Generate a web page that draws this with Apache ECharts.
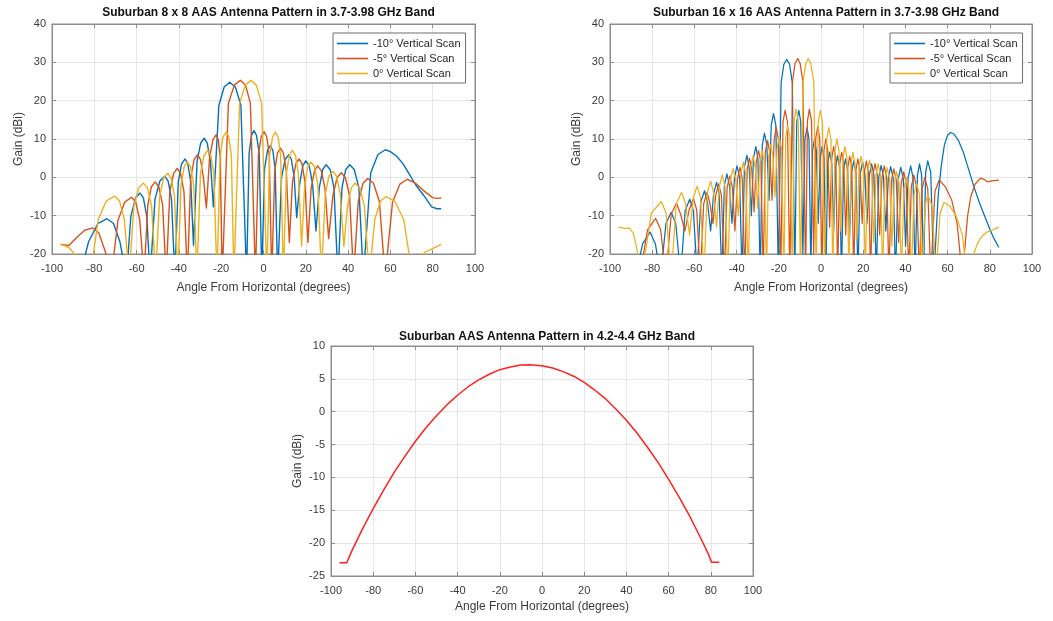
<!DOCTYPE html>
<html>
<head>
<meta charset="utf-8">
<script src="https://cdn.jsdelivr.net/npm/echarts@6/dist/echarts.min.js"></script>
<style>
html,body{margin:0;padding:0;background:#fff;}
#chart{width:1053px;height:621px;}
</style>
</head>
<body>
<div id="chart"></div>
<script>
// ---------- DATA ----------
const seriesNames = ['-10° Vertical Scan', '-5° Vertical Scan', '0° Vertical Scan'];
const titles = [
  'Suburban 8 x 8 AAS Antenna Pattern in 3.7-3.98 GHz Band',
  'Suburban 16 x 16 AAS Antenna Pattern in 3.7-3.98 GHz Band',
  'Suburban AAS Antenna Pattern in 4.2-4.4 GHz Band'
];
const xAxisTitle = 'Angle From Horizontal (degrees)';
const yAxisTitle = 'Gain (dBi)';

// 8 x 8 array, -10 deg scan  [angle, gain]
const a8_m10 = [[-96,-40],[-87,-26],
 [-82.7,-16.8],[-78.3,-12.05],[-74,-10.8],[-70.9,-12.05],[-67.9,-16.8],[-64.8,-26],
 [-62.7,-10.1],[-60.5,-5.35],[-58.4,-4.1],[-56.8,-5.35],[-55.2,-10.1],[-53.6,-26],
 [-51.3,-5.7],[-49,-0.95],[-46.7,0.3],[-45.1,-0.95],[-43.5,-5.7],[-41.9,-26],
 [-40.3,-1.2],[-38.7,3.55],[-37.1,4.8],[-35.8,3.55],[-34.4,-1.2],[-33.1,-17.7],
 [-31.4,4.2],[-29.7,8.95],[-28,10.2],[-26.6,8.95],[-25.1,4.2],[-23.7,-7.7],
 [-21.1,18.8],[-18.6,23.55],[-16,24.8],[-13.3,23.55],[-10.7,18.8],[-8,-26],
 [-6.8,6.2],[-5.7,10.95],[-4.5,12.2],[-3.3,10.95],[-2,6.2],[-0.8,-26],
 [0.5,2.3],[1.9,7.05],[3.2,8.3],[4.4,7.05],[5.5,2.3],[6.7,-26],
 [8.5,-0.1],[10.2,4.65],[12,5.9],[13.2,4.65],[14.5,-0.1],[15.7,-10.5],
 [17.1,-1.7],[18.6,3.05],[20,4.3],[21.6,3.05],[23.2,-1.7],[24.8,-14],
 [26.4,-2.7],[28,2.05],[29.6,3.3],[31.5,2.05],[33.3,-2.7],[35.2,-26],
 [37.1,-2.7],[38.9,2.05],[40.8,3.3],[42.9,2.05],[45.1,-2.7],[47.2,-26],
 [50.7,1.2],[54.1,5.95],[57.6,7.2],[60,6.7],[63,5.5],[66,3.5],[69,0.8],[72,-2],
 [75.6,-4.6],[79.5,-7.7],[82,-8.2],[84,-8.2]];
// 8 x 8 array, -5 deg scan
const a8_m5 = [[-96,-17.5],[-92,-17.8],
 [-88,-15.5],[-84.5,-13.8],[-80.8,-13.2],[-77.9,-14.45],[-74.9,-19.2],[-72,-26],
 [-68.8,-11.2],[-65.6,-6.45],[-62.4,-5.2],[-60.4,-6.45],[-58.5,-11.2],[-56.5,-26],
 [-54.7,-7.2],[-53,-2.45],[-51.2,-1.2],[-49.5,-2.45],[-47.7,-7.2],[-46,-26],
 [-44.3,-3.7],[-42.5,1.05],[-40.8,2.3],[-39.2,1.05],[-37.6,-3.7],[-36,-26],
 [-34.4,-0.1],[-32.8,4.65],[-31.2,5.9],[-29.8,4.65],[-28.4,-0.1],[-27,-8],
 [-25.5,5.1],[-23.9,9.85],[-22.4,11.1],[-21.4,9.85],[-20.5,5.1],[-19.5,-26],
 [-16.6,19.3],[-13.8,24.05],[-10.9,25.3],[-8.5,24.05],[-6.2,19.3],[-3.8,-26],
 [-2.4,5.9],[-1.1,10.65],[0.3,11.9],[1.5,10.65],[2.7,5.9],[3.9,-26],
 [5.3,1.6],[6.6,6.35],[8,7.6],[9.4,6.35],[10.8,1.6],[12.2,-17],
 [13.7,-1.2],[15.3,3.55],[16.8,4.8],[18.2,3.55],[19.6,-1.2],[21,-17],
 [22.5,-3],[24.1,1.75],[25.6,3],[27.3,1.75],[29.1,-3],[30.8,-16],
 [32.8,-4.8],[34.8,-0.05],[36.8,1.2],[38.7,-0.05],[40.7,-4.8],[42.6,-26],
 [44.8,-6.3],[47.1,-1.55],[49.3,-0.3],[52,-1.55],[54.8,-6.3],[57.5,-26],
 [61,-6.5],[64.5,-1.75],[68,-0.5],[72,-1.6],[76,-3.6],[80,-5.3],[82,-5.5],[84,-5.4]];
// 8 x 8 array, 0 deg scan
const a8_0 = [[-96,-17.4],[-92,-18.3],[-88.5,-20.5],[-82,-26],
 [-78.1,-10.9],[-74.3,-6.15],[-70.4,-4.9],[-68.1,-6.15],[-65.8,-10.9],[-63.5,-26],
 [-61.3,-7.5],[-59,-2.75],[-56.8,-1.5],[-54.9,-2.75],[-52.9,-7.5],[-51,-26],
 [-49.1,-4.9],[-47.2,-0.15],[-45.3,1.1],[-43.7,-0.15],[-42.1,-4.9],[-40.5,-26],
 [-39,-2],[-37.5,2.75],[-36,4],[-34.5,2.75],[-33,-2],[-31.5,-26],
 [-29.8,1],[-28.1,5.75],[-26.4,7],[-24.9,5.75],[-23.5,1],[-22,-26],
 [-20.5,5.8],[-19.1,10.55],[-17.6,11.8],[-16.4,10.55],[-15.2,5.8],[-14,-26],
 [-11.3,19.3],[-8.6,24.05],[-5.9,25.3],[-3.4,24.05],[-0.9,19.3],[1.6,-26],
 [2.9,5.8],[4.3,10.55],[5.6,11.8],[6.9,10.55],[8.1,5.8],[9.4,-26],
 [10.8,1],[12.2,5.75],[13.6,7],[15.1,5.75],[16.5,1],[18,-18],
 [19.5,-2],[20.9,2.75],[22.4,4],[24.1,2.75],[25.7,-2],[27.4,-26],
 [29.2,-4.4],[31,0.35],[32.8,1.6],[34.5,0.35],[36.3,-4.4],[38,-18],
 [39.7,-7.5],[41.5,-2.75],[43.2,-1.5],[45.5,-2.75],[47.7,-7.5],[50,-26],
 [52.6,-11],[55.3,-6.25],[57.9,-5],[62.1,-6.25],[66.3,-11],[70.5,-26],
 [73.5,-24],[75.4,-20],[77,-19.3],[80,-18.6],[84,-17.5]];

// 16 x 16 array, -10 deg scan
const a16_m10 = [[-96,-40],[-88,-26],
 [-84.5,-17.3],[-81,-14.3],[-78.5,-17.3],[-76,-26],
 [-73.5,-12.1],[-71,-9.1],[-68.8,-12.1],[-66.5,-26],
 [-64.4,-8.7],[-62.2,-5.7],[-60.5,-8.7],[-58.7,-25],
 [-57,-6.5],[-55.2,-3.5],[-53.8,-6.5],[-52.3,-14],
 [-50.9,-4.3],[-49.5,-1.3],[-48.3,-4.3],[-47,-26],
 [-45.8,-2.1],[-44.6,0.9],[-43.4,-2.1],[-42.2,-12],
 [-41,0],[-39.8,3],[-38.6,0],[-37.4,-26],
 [-36.3,2.7],[-35.1,5.7],[-34.1,2.7],[-33,-10],
 [-32,5],[-30.9,8],[-29.9,5],[-28.8,-26],
 [-27.8,8.5],[-26.8,11.5],[-25.7,8.5],[-24.6,-6],
 [-23.6,13.6],[-22.5,16.6],[-21.4,13.6],[-20.2,-26],
 [-18.9,24.7],[-17.6,29.5],[-16.2,30.7],[-14.9,29.5],[-13.6,24.7],[-12.4,-26],
 [-11.5,14.5],[-10.5,17.5],[-9.6,14.5],[-8.6,-20],
 [-7.6,10],[-6.6,13],[-5.7,10],[-4.8,-25],
 [-4,7],[-3.1,10],[-2.2,7],[-1.3,-12],
 [-0.4,5],[0.5,8],[1.4,5],[2.3,-26],
 [3.2,3.6],[4.1,6.6],[5.1,3.6],[6,-14],
 [6.9,2.6],[7.8,5.6],[8.8,2.6],[9.7,-26],
 [10.7,1.8],[11.6,4.8],[12.6,1.8],[13.5,-16],
 [14.5,1.3],[15.5,4.3],[16.5,1.3],[17.5,-26],
 [18.6,0.9],[19.7,3.9],[20.8,0.9],[21.8,-12],
 [22.9,0.5],[24,3.5],[25.1,0.5],[26.2,-26],
 [27.4,0.1],[28.5,3.1],[29.6,0.1],[30.7,-14],
 [31.9,-0.2],[33,2.8],[34.2,-0.2],[35.3,-26],
 [36.6,-0.4],[37.8,2.6],[39,-0.4],[40.1,-18],
 [41.3,0],[42.5,3],[43.6,0],[44.6,-26],
 [45.7,0.5],[46.7,3.5],[47.7,0.5],[48.6,-26],
 [49.6,1.3],[50.6,4.3],[52,1.3],[53.5,-26],
 [55.5,-5],[57,3],[58.5,8.5],[60,11],[61.4,11.7],[63,11.3],[65,9.8],[67.5,6.5],[70,2],
 [72.5,-2.5],[75,-6.5],[77.5,-10],[80,-13.5],[82,-16],[84.3,-18.3]];
// 16 x 16 array, -5 deg scan
const a16_m5 = [[-96,-40],[-86,-26],
 [-82.2,-13.7],[-78.4,-10.7],[-76,-13.7],[-73.5,-26],
 [-71,-9.7],[-68.5,-6.7],[-66.5,-9.7],[-64.5,-14],
 [-62.5,-8.5],[-60.5,-5.5],[-58.9,-8.5],[-57.2,-26],
 [-55.6,-6.9],[-54,-3.9],[-52.6,-6.9],[-51.2,-12],
 [-49.9,-4.7],[-48.5,-1.7],[-47.2,-4.7],[-45.8,-26],
 [-44.5,-2.6],[-43.2,0.4],[-42,-2.6],[-40.8,-14],
 [-39.6,-0.4],[-38.4,2.6],[-37.3,-0.4],[-36.1,-26],
 [-35,2],[-33.9,5],[-32.8,2],[-31.7,-9],
 [-30.7,4],[-29.6,7],[-28.5,4],[-27.4,-26],
 [-26.4,6.6],[-25.3,9.6],[-24.3,6.6],[-23.2,-6],
 [-22.2,10],[-21.2,13],[-20.2,10],[-19.1,-26],
 [-18,14.5],[-17,17.5],[-15.9,14.5],[-14.8,-26],
 [-13.5,25],[-12.3,29.75],[-11,31],[-9.9,29.75],[-8.6,25],[-7.3,-26],
 [-6.4,14.8],[-5.5,17.8],[-4.5,14.8],[-3.5,-20],
 [-2.5,10.2],[-1.5,13.2],[-0.6,10.2],[0.4,-26],
 [1.4,7],[2.3,10],[3.2,7],[4.1,-13],
 [5.1,5],[6,8],[7,5],[7.9,-26],
 [8.9,3.5],[9.8,6.5],[10.8,3.5],[11.7,-15],
 [12.7,2.5],[13.6,5.5],[14.6,2.5],[15.5,-26],
 [16.5,1.8],[17.5,4.8],[18.5,1.8],[19.5,-12],
 [20.5,1.2],[21.5,4.2],[22.5,1.2],[23.5,-26],
 [24.6,0.6],[25.6,3.6],[26.7,0.6],[27.8,-15],
 [28.9,0],[30,3],[31.1,0],[32.2,-26],
 [33.4,-0.8],[34.5,2.2],[35.7,-0.8],[36.8,-17],
 [38,-1.6],[39.2,1.4],[40.4,-1.6],[41.6,-26],
 [42.8,-2.4],[44,0.6],[45.3,-2.4],[46.6,-26],
 [47.9,-3],[49.2,0],[50.6,-3],[52,-26],
 [54,-3.7],[56,-0.7],[59,-2.5],[62,-6],[64.5,-12],[67,-26],
 [69.5,-10],[71,-5],[73,-1.8],[75.6,-0.2],[77.5,-0.6],[79,-1.2],[81,-0.9],[84.3,-0.7]];
// 16 x 16 array, 0 deg scan
const a16_0 = [[-96,-13],[-93,-13.3],[-91,-13.2],[-89,-14.5],[-87.5,-18],[-85,-26],
 [-80.4,-9.3],[-75.7,-6.3],[-73.4,-9.3],[-71,-26],
 [-68.6,-6.9],[-66.1,-3.9],[-64.2,-6.9],[-62.3,-15],
 [-60.5,-5.3],[-58.7,-2.3],[-57.1,-5.3],[-55.5,-26],
 [-53.9,-4],[-52.3,-1],[-50.9,-4],[-49.5,-13],
 [-48.2,-2.4],[-46.8,0.6],[-45.5,-2.4],[-44.2,-26],
 [-42.9,-0.7],[-41.6,2.3],[-40.4,-0.7],[-39.2,-10],
 [-38,1],[-36.8,4],[-35.7,1],[-34.5,-26],
 [-33.4,2.5],[-32.2,5.5],[-31.1,2.5],[-30,-8],
 [-29,4],[-27.9,7],[-26.9,4],[-25.8,-26],
 [-24.8,5.5],[-23.8,8.5],[-22.8,5.5],[-21.8,-5],
 [-20.8,7.5],[-19.8,10.5],[-18.7,7.5],[-17.6,-26],
 [-16.7,10.5],[-15.8,13.5],[-14.7,10.5],[-13.6,-26],
 [-12.7,14.8],[-11.8,17.8],[-10.8,14.8],[-9.7,-26],
 [-8.5,25],[-7.2,29.75],[-6,31],[-4.9,29.75],[-3.4,25],[-2.3,-26],
 [-1.3,14.5],[-0.3,17.5],[0.7,14.5],[1.7,-25],
 [2.7,10],[3.7,13],[4.7,10],[5.6,-26],
 [6.6,7],[7.5,10],[8.5,7],[9.4,-14],
 [10.4,5],[11.3,8],[12.3,5],[13.2,-26],
 [14.2,3.5],[15.1,6.5],[16.1,3.5],[17,-16],
 [18,2.5],[19,5.5],[20,2.5],[21,-26],
 [22,1.5],[23,4.5],[24,1.5],[25,-17],
 [26,0.5],[27.1,3.5],[28.2,0.5],[29.2,-26],
 [30.3,-0.5],[31.4,2.5],[32.5,-0.5],[33.6,-18],
 [34.7,-1.5],[35.8,1.5],[37,-1.5],[38.1,-26],
 [39.3,-3],[40.4,0],[41.6,-3],[42.8,-26],
 [44.1,-4.5],[45.3,-1.5],[46.7,-4.5],[48,-26],
 [49.3,-7.5],[50.6,-4.5],[52.6,-7.5],[54.5,-26],
 [56.4,-9.5],[58.3,-6.5],[61,-7.5],[64,-10],[67,-15],[69.3,-26],
 [71,-24],[72.4,-20],[74,-17.5],[75.5,-16],[77,-15],[78.7,-14.3],[81,-13.8],[84.3,-13]];

// 4.2-4.4 GHz single pattern
const aBand2 = [[-96,-23],[-92.6,-23],[-90,-21.1],[-85,-17.8],[-80,-14.75],[-75,-11.9],[-70,-9.2],
 [-65,-6.8],[-60,-4.5],[-55,-2.45],[-50,-0.6],[-45,1.07],[-40,2.5],[-35,3.8],[-30,4.85],
 [-25,5.7],[-20,6.4],[-15,6.8],[-10,7.1],[-6,7.15],[0,7.0],[5,6.65],[10,6.1],[15,5.4],
 [20,4.45],[25,3.3],[30,2.0],[35,0.4],[40,-1.3],[45,-3.25],[50,-5.4],[55,-7.7],[60,-10.3],
 [65,-13],[70,-15.9],[75,-19.1],[79,-21.75],[80.3,-22.9],[84,-22.9]];

// axis ranges / ticks
const xRange = {min: -100, max: 100, interval: 20};
const yRangeTop = {min: -20, max: 40, interval: 10};
const yRangeBottom = {min: -25, max: 10, interval: 5};

// ---------- STYLE ----------
const FONT = "'Liberation Sans', Arial, Helvetica, sans-serif";
const AX = '#8c8c8c';
const TXT = '#3a3a3a';
const GRIDC = '#e6e6e6';
const COLORS = ['#0072BD', '#D95319', '#EDB120'];

const grids = [
  {left: 52, top: 24, width: 423, height: 230},
  {left: 610, top: 24, width: 422, height: 230},
  {left: 331, top: 346, width: 422, height: 230}
];

const xAxes = [], yAxes = [];
grids.forEach((g, i) => {
  const yr = i < 2 ? yRangeTop : yRangeBottom;
  xAxes.push({
    type: 'value', gridIndex: i, position: 'bottom', min: xRange.min, max: xRange.max, interval: xRange.interval,
    name: xAxisTitle, nameLocation: 'middle', nameGap: i < 2 ? 28 : 25,
    nameTextStyle: {fontFamily: FONT, fontSize: 12, color: TXT},
    axisLine: {show: true, onZero: false, lineStyle: {color: AX, width: 1}},
    axisTick: {show: true, inside: true, length: 4, lineStyle: {color: AX}},
    axisLabel: {fontFamily: FONT, fontSize: 11, color: TXT, margin: 9},
    splitLine: {show: true, lineStyle: {color: GRIDC, width: 1}}
  });
  xAxes.push({
    type: 'value', gridIndex: i, position: 'top', min: xRange.min, max: xRange.max, interval: xRange.interval,
    axisLine: {show: true, onZero: false, lineStyle: {color: AX, width: 1}},
    axisTick: {show: true, inside: true, length: 4, lineStyle: {color: AX}},
    axisLabel: {show: false}, splitLine: {show: false}
  });
  yAxes.push({
    type: 'value', gridIndex: i, position: 'left', min: yr.min, max: yr.max, interval: yr.interval,
    name: yAxisTitle, nameLocation: 'middle', nameGap: 27, nameRotate: 90,
    nameTextStyle: {fontFamily: FONT, fontSize: 12, color: TXT},
    axisLine: {show: true, onZero: false, lineStyle: {color: AX, width: 1}},
    axisTick: {show: true, inside: true, length: 4, lineStyle: {color: AX}},
    axisLabel: {fontFamily: FONT, fontSize: 11, color: TXT, margin: 6},
    splitLine: {show: true, lineStyle: {color: GRIDC, width: 1}}
  });
  yAxes.push({
    type: 'value', gridIndex: i, position: 'right', min: yr.min, max: yr.max, interval: yr.interval,
    axisLine: {show: true, onZero: false, lineStyle: {color: AX, width: 1}},
    axisTick: {show: true, inside: true, length: 4, lineStyle: {color: AX}},
    axisLabel: {show: false}, splitLine: {show: false}
  });
});

function lineSeries(name, data, gi, color, width) {
  return {
    name: name, type: 'line', data: data, xAxisIndex: gi * 2, yAxisIndex: gi * 2,
    showSymbol: false, symbol: 'none', smooth: false, clip: true,
    lineStyle: {color: color, width: width || 1.3, join: 'round'}, itemStyle: {color: color},
    emphasis: {disabled: true}, animation: false, z: 3
  };
}

const series = [
  lineSeries(seriesNames[0], a8_m10, 0, COLORS[0], 1.4),
  lineSeries(seriesNames[1], a8_m5, 0, COLORS[1], 1.4),
  lineSeries(seriesNames[2], a8_0, 0, COLORS[2], 1.4),
  lineSeries(seriesNames[0], a16_m10, 1, COLORS[0], 1.25),
  lineSeries(seriesNames[1], a16_m5, 1, COLORS[1], 1.25),
  lineSeries(seriesNames[2], a16_0, 1, COLORS[2], 1.25),
  lineSeries('4.2-4.4 GHz', aBand2, 2, '#FF2020', 1.5)
];

const titleCenters = [
  {x: 263.5, y: 2}, {x: 821, y: 2}, {x: 542, y: 326}
];

function legendAt(left) {
  return {
    left: left, top: 33, orient: 'vertical', data: seriesNames,
    icon: 'rect', itemWidth: 31, itemHeight: 1.6, itemGap: 2,
    backgroundColor: '#ffffff', borderColor: '#6e6e6e', borderWidth: 1,
    padding: [4, 5, 3, 4], selectedMode: false,
    textStyle: {fontFamily: FONT, fontSize: 11, color: '#262626', lineHeight: 13}
  };
}

const option = {
  animation: false,
  backgroundColor: '#ffffff',
  title: titles.map((t, i) => ({
    text: t, left: titleCenters[i].x, top: titleCenters[i].y, textAlign: 'center',
    textStyle: {fontFamily: FONT, fontSize: 12, fontWeight: 'bold', color: '#111'}
  })),
  legend: [legendAt(333), legendAt(890)],
  grid: grids.map(g => Object.assign({show: true, borderColor: AX, borderWidth: 1, backgroundColor: '#fff'}, g)),
  xAxis: xAxes,
  yAxis: yAxes,
  series: series
};

const chart = echarts.init(document.getElementById('chart'), null, {renderer: 'canvas'});
chart.setOption(option);
</script>
</body>
</html>
